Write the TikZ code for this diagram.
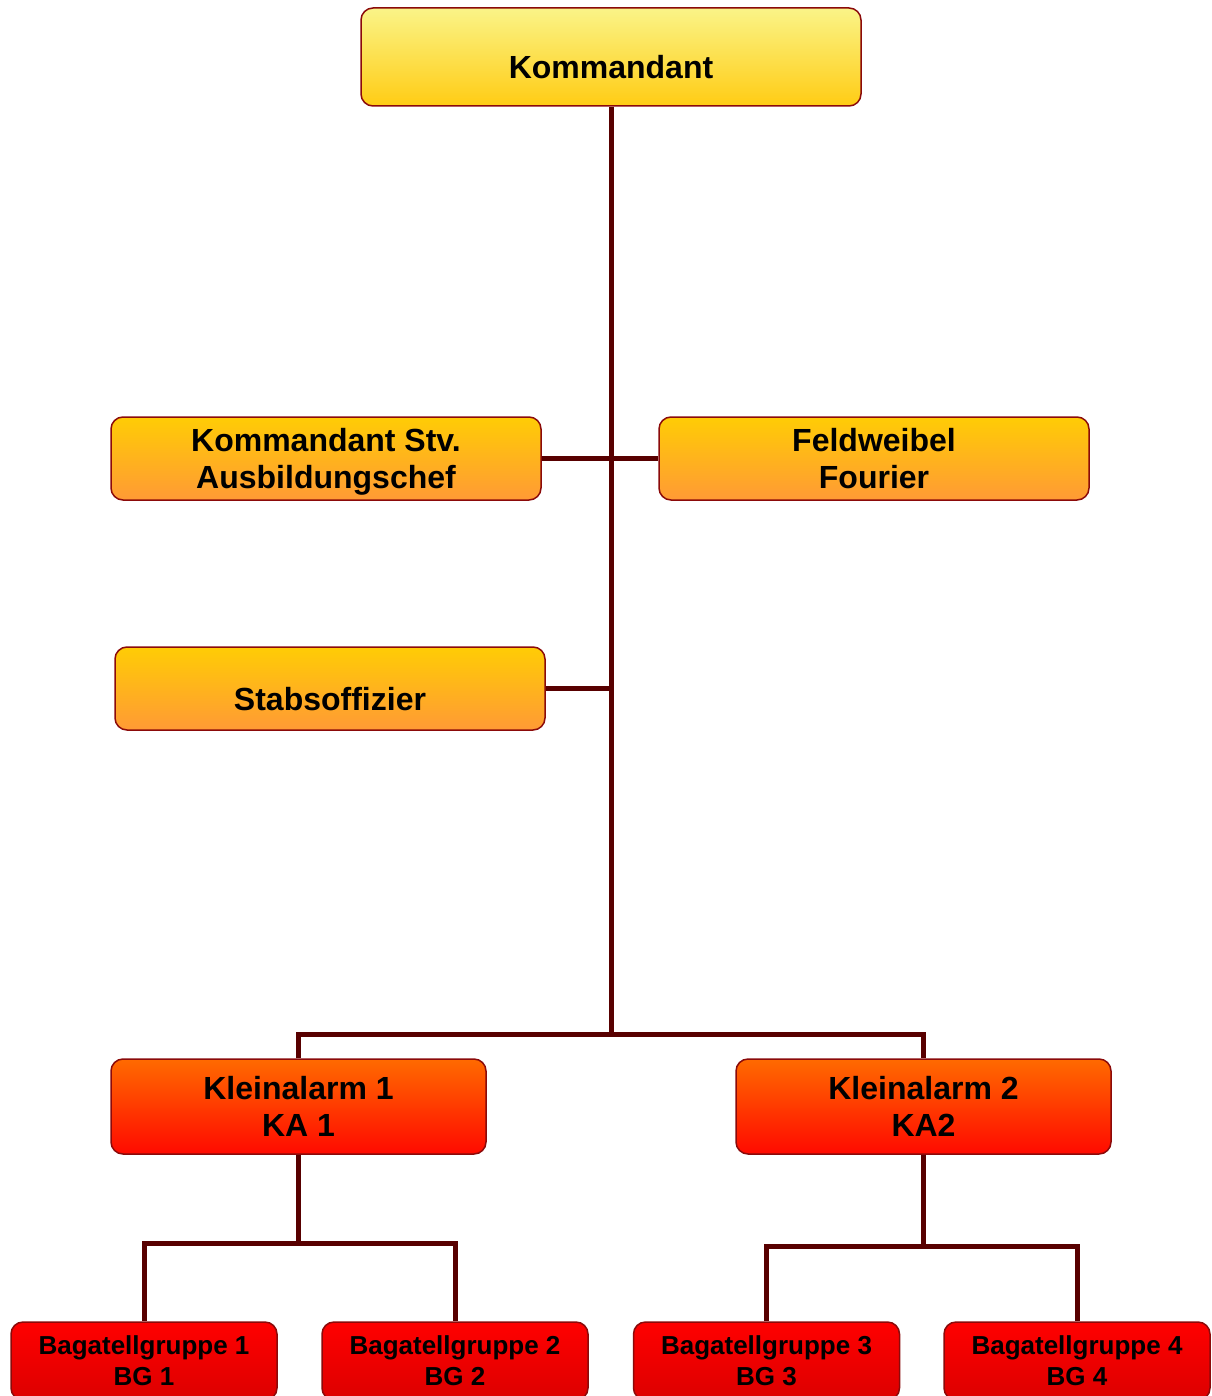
\documentclass[tikz,border=0pt]{standalone}
\usepackage{fontspec}
\setmainfont{Liberation Sans}
\usepackage{tikz}

\definecolor{boxline}{HTML}{8B0A0A}
\definecolor{wire}{HTML}{580000}
\definecolor{kdttop}{HTML}{FAF488}
\definecolor{kdtbot}{HTML}{FFCC14}
\definecolor{stvtop}{HTML}{FFCC05}
\definecolor{stvbot}{HTML}{FF9A35}
\definecolor{katop}{HTML}{FF6A00}
\definecolor{kabot}{HTML}{FF0A00}
\definecolor{bgtop}{HTML}{FF0000}
\definecolor{bgbot}{HTML}{DC0000}

\begin{document}
\begin{tikzpicture}[x=1pt,y=-1pt,
    box/.style={draw=boxline, line width=1.5pt, rounded corners=12pt, inner sep=0pt,
        align=center, font=\bfseries\fontsize{32}{37}\selectfont},
    chief/.style={box, top color=kdttop, bottom color=kdtbot,
        minimum width=500pt, minimum height=98pt},
    staff/.style={box, top color=stvtop, bottom color=stvbot,
        minimum width=430pt, minimum height=83pt, text depth=0pt},
    lowtext/.style={text height=44pt, text depth=0pt},
    alarm/.style={box, top color=katop, bottom color=kabot,
        minimum width=375pt, minimum height=95pt, text depth=0pt},
    group/.style={box, top color=bgtop, bottom color=bgbot,
        minimum width=266pt, minimum height=78pt, text depth=0pt,
        font=\bfseries\fontsize{26}{31}\selectfont},
    link/.style={draw=wire, line width=5pt}]
    \useasboundingbox (0,0) rectangle (1211,1396);

    \node[chief, lowtext] (kdt) at (611,57) {Kommandant};

    \node[staff] (stv) at (326,458.5) {Kommandant Stv.\\Ausbildungschef};
    \node[staff] (fw)  at (874,458.5) {Feldweibel\\Fourier};
    \node[staff, lowtext] (stab) at (330,688.5) {Stabsoffizier};

    \node[alarm] (ka1) at (298.5,1106.5) {Kleinalarm 1\\KA 1};
    \node[alarm] (ka2) at (923.5,1106.5) {Kleinalarm 2\\KA2};

    \node[group] (bg1) at (144,1361)   {Bagatellgruppe 1\\BG 1};
    \node[group] (bg2) at (455,1361)   {Bagatellgruppe 2\\BG 2};
    \node[group] (bg3) at (766.5,1361) {Bagatellgruppe 3\\BG 3};
    \node[group] (bg4) at (1077,1361)  {Bagatellgruppe 4\\BG 4};

    \coordinate (fork)  at (611,1034);
    \coordinate (fork1) at (298.5,1243);
    \coordinate (fork2) at (923.5,1246);

    \draw[link] (kdt.south) -- (fork);
    \draw[link] (stv.east) -- (fw.west);
    \draw[link] (stab.east) -- (stab.east -| kdt.south);
    \draw[link] (ka1.north) -- (ka1.north |- fork) -- (ka2.north |- fork) -- (ka2.north);

    \draw[link] (ka1.south) -- (fork1);
    \draw[link] (bg1.north) -- (bg1.north |- fork1) -- (bg2.north |- fork1) -- (bg2.north);
    \draw[link] (ka2.south) -- (fork2);
    \draw[link] (bg3.north) -- (bg3.north |- fork2) -- (bg4.north |- fork2) -- (bg4.north);
\end{tikzpicture}
\end{document}
